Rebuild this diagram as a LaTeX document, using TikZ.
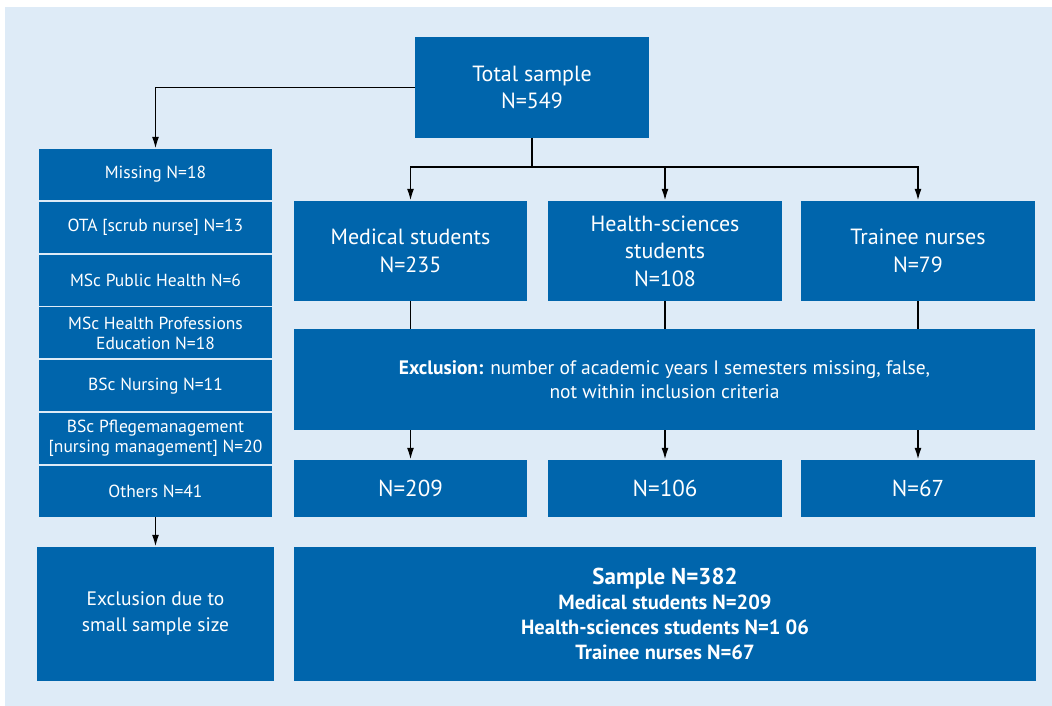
\documentclass[tikz,border=0pt]{standalone}
\usepackage{fontspec}
\setmainfont{PT Sans}
\usetikzlibrary{arrows.meta}
\definecolor{boxblue}{RGB}{0,101,172}
\definecolor{bglight}{RGB}{222,235,247}
\tikzset{
  box/.style={fill=boxblue, text=white, inner sep=0pt, align=center, anchor=center},
  big/.style={box, font=\fontsize{22}{27.5}\selectfont},
  small/.style={box, minimum width=233pt, minimum height=51pt, font=\fontsize{17.5}{20}\selectfont},
  mid/.style={box, font=\fontsize{19.5}{24}\selectfont},
  conn/.style={draw=black, line width=1.8pt},
  arr/.style={conn, -{Latex[length=12pt,width=7pt]}}
}
\begin{document}
\begin{tikzpicture}[x=1pt,y=-1pt]
\useasboundingbox (0,0) rectangle (1052,706);
\fill[white] (0,0) rectangle (1052,706);
\fill[bglight] (5,7) rectangle (1052,706);

\node[big, minimum width=234pt, minimum height=101pt] (total) at (532,87.5) {Total sample\\N=549};

\node[big, minimum width=233pt, minimum height=100pt] (med) at (410.5,251) {Medical students\\N=235};
\node[big, minimum width=234pt, minimum height=100pt] (health) at (665,251) {Health-sciences\\students\\N=108};
\node[big, minimum width=234pt, minimum height=100pt] (nurse) at (918,251) {Trainee nurses\\N=79};

\node[mid, minimum width=741pt, minimum height=101pt] (excl) at (664.5,379.5) {\textbf{Exclusion:} number of academic years I semesters missing, false,\\not within inclusion criteria};

\node[box, font=\fontsize{23}{27}\selectfont, minimum width=233pt, minimum height=57pt] (n209) at (410.5,488.5) {N=209};
\node[box, font=\fontsize{23}{27}\selectfont, minimum width=234pt, minimum height=57pt] (n106) at (665,488.5) {N=106};
\node[box, font=\fontsize{23}{27}\selectfont, minimum width=234pt, minimum height=57pt] (n67) at (918,488.5) {N=67};

\node[small] (l1) at (155.5,174.5) {Missing N=18};
\node[small] (l2) at (155.5,227.3) {OTA [scrub nurse] N=13};
\node[small] (l3) at (155.5,280.1) {MSc Public Health N=6};
\node[small] (l4) at (155.5,332.9) {MSc Health Professions\\Education N=18};
\node[small] (l5) at (155.5,385.7) {BSc Nursing N=11};
\node[small] (l6) at (155.5,438.5) {BSc Pflegemanagement\\{[nursing management]} N=20};
\node[small] (l7) at (155.5,491.3) {Others N=41};

\node[box, minimum width=237pt, minimum height=134pt, font=\fontsize{19.5}{26}\selectfont] (exsmall) at (155.5,614) {Exclusion due to\\small sample size};
\node[box, minimum width=742pt, minimum height=134pt, font=\fontsize{20.5}{25}\selectfont\bfseries] (sample) at (665,614) {{\fontsize{23}{25}\selectfont Sample N=382}\\Medical students N=209\\Health-sciences students N=1 06\\Trainee nurses N=67};

% connectors
\draw[arr] (total.west) -| (l1.north);
\draw[conn] (total.south) -- ++(0,29) coordinate (split);
\draw[arr] (split) -| (med.north);
\draw[arr] (split) -| (health.north);
\draw[arr] (split) -| (nurse.north);
\draw[conn] (med.south) -- (med.south |- excl.north);
\draw[conn] (health.south) -- (health.south |- excl.north);
\draw[conn] (nurse.south) -- (nurse.south |- excl.north);
\draw[arr] (n209.north |- excl.south) -- (n209.north);
\draw[arr] (n106.north |- excl.south) -- (n106.north);
\draw[arr] (n67.north |- excl.south) -- (n67.north);
\draw[arr] (l7.south) -- (exsmall.north);
\end{tikzpicture}
\end{document}
